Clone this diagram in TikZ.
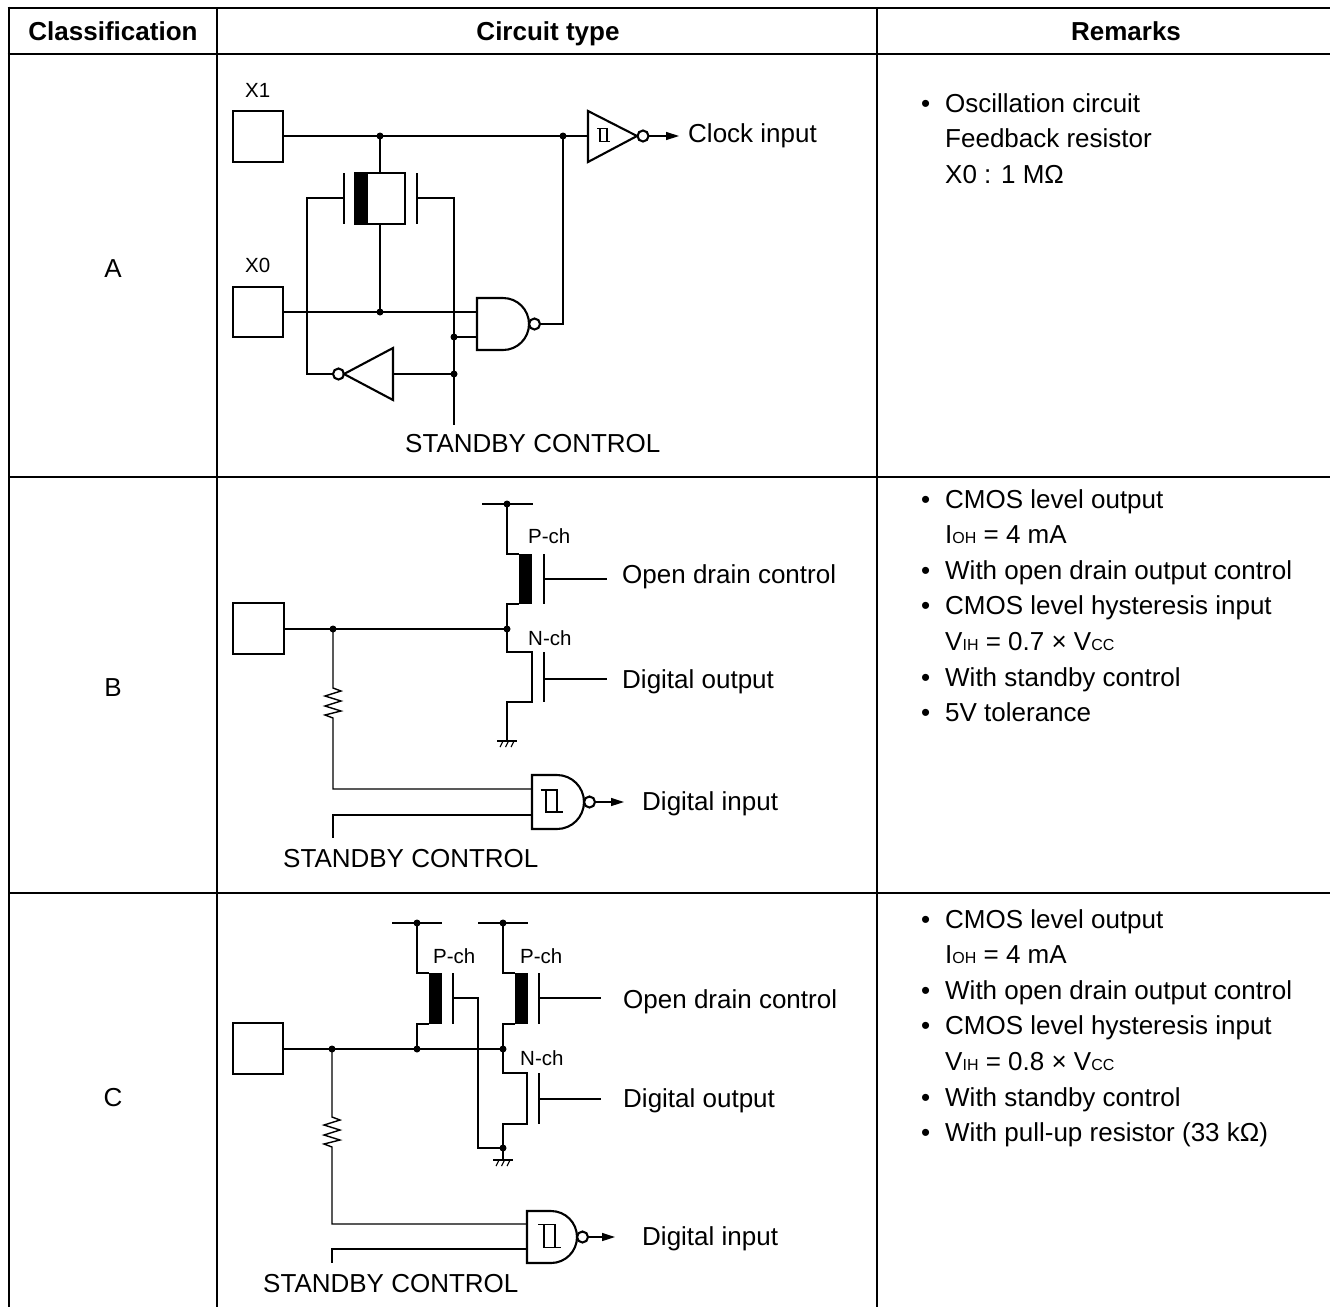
\documentclass[tikz,border=0pt]{standalone}
\usepackage{fontspec}
\setmainfont{Liberation Sans}
\usetikzlibrary{arrows.meta}
\newcommand\rmksub[1]{{\fontsize{16}{18}\selectfont #1}}
\newcommand\bul{\makebox[24pt][l]{•}}
\begin{document}
\begin{tikzpicture}[x=1pt,y=-1pt,
  wire/.style={line width=1.4pt},
  gateline/.style={line width=2.1pt, line join=miter},
  plate/.style={line width=2.4pt},
  tblthick/.style={line width=2.8pt},
  tbl/.style={line width=2pt},
  txt/.style={font=\fontsize{26}{30}\selectfont, inner sep=0pt, anchor=base west},
  hdr/.style={font=\bfseries\fontsize{26}{30}\selectfont, inner sep=0pt, anchor=base},
  smalltxt/.style={font=\fontsize{20.5}{24}\selectfont, inner sep=0pt, anchor=base west},
  sigarrow/.style={wire, -{Triangle[length=13pt,width=8pt]}},
  jdot/.style={fill=black, circle, inner sep=0pt, minimum size=7pt},
  hyst/.pic={\draw[line width=1.9pt] (-1,-1) -- (0.5,-1) -- (0.5,1) -- (1,1);
             \draw[line width=1.9pt] (-0.5,-1) -- (-0.5,1) -- (0.5,1);},
  gnd/.pic={\draw[line width=1.4pt] (-10,0) -- (10,0);
            \draw[line width=1.1pt] (-4,0) -- (-7,6) (1.5,0) -- (-1.5,6) (7,0) -- (4,6);}
]
\useasboundingbox (0,0) rectangle (1330,1307);
% ---------------- table ----------------
\draw[tblthick] (7.6,8) -- (1330,8);
\draw[tblthick] (7.6,54) -- (1330,54);
\draw[tbl] (8,477) -- (1330,477);
\draw[tbl] (8,893) -- (1330,893);
\draw[tblthick] (9,6.6) -- (9,1307);
\draw[tbl] (217,8) -- (217,1307);
\draw[tbl] (877,8) -- (877,1307);
\node[hdr] (h1) at (113,40) {Classification};
\node[hdr] (h2) at (548,40) {Circuit type};
\node[hdr] (h3) at (1126,40) {Remarks};
\node[txt, anchor=base] (ra) at (113,277) {A};
\node[txt, anchor=base] (rb) at (113,696) {B};
\node[txt, anchor=base] (rc) at (113,1106) {C};
% ---------------- remarks ----------------
\node[txt] (a1) at (921,112) {\bul Oscillation circuit};
\node[txt] (a2) at (945,147.6) {Feedback resistor};
\node[txt] (a3) at (945,183.2) {X0 : 1 MΩ};
\node[txt] (b1) at (921,508) {\bul CMOS level output};
\node[txt] (b2) at (945,543.6) {I\rmksub{OH} = 4 mA};
\node[txt] (b3) at (921,579.2) {\bul With open drain output control};
\node[txt] (b4) at (921,614.8) {\bul CMOS level hysteresis input};
\node[txt] (b5) at (945,650.4) {V\rmksub{IH} = 0.7 × V\rmksub{CC}};
\node[txt] (b6) at (921,686) {\bul With standby control};
\node[txt] (b7) at (921,721.6) {\bul 5V tolerance};
\node[txt] (c1) at (921,928) {\bul CMOS level output};
\node[txt] (c2) at (945,963.6) {I\rmksub{OH} = 4 mA};
\node[txt] (c3) at (921,999.2) {\bul With open drain output control};
\node[txt] (c4) at (921,1034.8) {\bul CMOS level hysteresis input};
\node[txt] (c5) at (945,1070.4) {V\rmksub{IH} = 0.8 × V\rmksub{CC}};
\node[txt] (c6) at (921,1106) {\bul With standby control};
\node[txt] (c7) at (921,1141.6) {\bul With pull-up resistor (33 kΩ)};
% ---------------- circuit A ----------------
\draw[gateline] (233,111) rectangle (283,162);
\node[smalltxt] (x1) at (245,97) {X1};
\draw[gateline] (233,287) rectangle (283,337);
\node[smalltxt] (x0) at (245,272) {X0};
\draw[wire] (283,136) -- (588,136);
\node[jdot] at (380,136) {};
\node[jdot] at (563,136) {};
\draw[gateline] (588,111) -- (637,136) -- (588,162) -- cycle;
\pic[scale=6.5] at (603.5,135) {hyst};
\draw[gateline] (643,136) circle[radius=5.5];
\draw[sigarrow] (648.5,136) -- (679,136);
\node[txt] (clk) at (688,142) {Clock input};
\draw[wire] (380,136) -- (380,173);
\draw[gateline] (355,173) rectangle (405,224);
\fill (355,173) rectangle (368,224);
\draw[wire] (380,224) -- (380,312);
\draw[plate] (344,173) -- (344,224);
\draw[plate] (417,173) -- (417,224);
\draw[wire] (344,198) -- (307,198) -- (307,374) -- (333,374);
\draw[wire] (417,198) -- (454,198) -- (454,425);
\draw[wire] (283,312) -- (477,312);
\node[jdot] at (380,312) {};
\draw[gateline] (477,298) -- (503,298) .. controls (517.4,298) and (529,309.6) .. (529,324) .. controls (529,338.4) and (517.4,350) .. (503,350) -- (477,350) -- cycle;
\draw[gateline] (534.5,324) circle[radius=5.5];
\draw[wire] (540,324) -- (563,324) -- (563,136);
\draw[wire] (454,337) -- (477,337);
\node[jdot] at (454,337) {};
\draw[gateline] (393,348) -- (393,400) -- (344,374) -- cycle;
\draw[gateline] (338.5,374) circle[radius=5.5];
\draw[wire] (393,374) -- (454,374);
\node[jdot] at (454,374) {};
\node[txt] (sa) at (405,452) {STANDBY CONTROL};
% ---------------- circuit B ----------------
\draw[gateline] (233,603) rectangle (284,654);
\draw[wire] (284,629) -- (507,629);
\node[jdot] at (333,629) {};
\node[jdot] at (507,629) {};
\draw[wire] (482,504) -- (533,504);
\node[jdot] at (507,504) {};
\draw[wire] (507,504) -- (507,554) -- (519,554);
\fill (519,554) rectangle (532,604);
\draw[wire] (519,604) -- (507,604) -- (507,652) -- (532,652) -- (532,702) -- (507,702) -- (507,741);
\pic at (507,741) {gnd};
\draw[plate] (544,554) -- (544,604);
\draw[wire] (544,579) -- (607,579);
\draw[plate] (544,652) -- (544,702);
\draw[wire] (544,679) -- (607,679);
\node[smalltxt] (bp) at (528,543) {P-ch};
\node[smalltxt] (bn) at (528,645) {N-ch};
\node[txt] (bo) at (622,583) {Open drain control};
\node[txt] (bd) at (622,688) {Digital output};
\draw[wire] (333,629) -- (333,688) -- (341,691) -- (325,696) -- (341,701) -- (325,706) -- (341,711) -- (325,715) -- (333,718) -- (333,789) -- (532,789);
\draw[wire] (532,815) -- (333,815) -- (333,838);
\draw[gateline] (532,775) -- (557,775) .. controls (571.9,775) and (584,787.1) .. (584,802) .. controls (584,816.9) and (571.9,829) .. (557,829) -- (532,829) -- cycle;
\pic[scale=11] at (551.5,801) {hyst};
\draw[gateline] (589.5,802) circle[radius=5.5];
\draw[sigarrow] (595,802) -- (624,802);
\node[txt] (bi) at (642,810) {Digital input};
\node[txt] (sb) at (283,867) {STANDBY CONTROL};
% ---------------- circuit C ----------------
\draw[gateline] (233,1023) rectangle (283,1074);
\draw[wire] (283,1049) -- (503,1049);
\node[jdot] at (332,1049) {};
\node[jdot] at (417,1049) {};
\node[jdot] at (503,1049) {};
\draw[wire] (392,923) -- (442,923);
\node[jdot] at (417,923) {};
\draw[wire] (478,923) -- (528,923);
\node[jdot] at (503,923) {};
\draw[wire] (417,923) -- (417,973) -- (429,973);
\fill (429,973) rectangle (442,1024);
\draw[wire] (429,1024) -- (417,1024) -- (417,1049);
\draw[plate] (453,973) -- (453,1024);
\draw[wire] (453,998) -- (478,998) -- (478,1148) -- (503,1148);
\draw[wire] (503,923) -- (503,973) -- (515,973);
\fill (515,973) rectangle (528,1024);
\draw[wire] (515,1024) -- (503,1024) -- (503,1073) -- (527,1073) -- (527,1124) -- (503,1124) -- (503,1160);
\node[jdot] at (503,1148) {};
\pic at (503,1160) {gnd};
\draw[plate] (539,973) -- (539,1024);
\draw[wire] (539,998) -- (601,998);
\draw[plate] (539,1073) -- (539,1124);
\draw[wire] (539,1099) -- (601,1099);
\node[smalltxt] (cp1) at (433,963) {P-ch};
\node[smalltxt] (cp2) at (520,963) {P-ch};
\node[smalltxt] (cn) at (520,1065) {N-ch};
\node[txt] (co) at (623,1008) {Open drain control};
\node[txt] (cd) at (623,1107) {Digital output};
\draw[wire] (332,1049) -- (332,1117) -- (340,1120) -- (324,1125) -- (340,1130) -- (324,1135) -- (340,1140) -- (324,1144) -- (332,1147) -- (332,1224) -- (527,1224);
\draw[wire] (527,1249) -- (332,1249) -- (332,1263);
\draw[gateline] (527,1211) -- (551,1211) .. controls (565.4,1211) and (577,1222.6) .. (577,1237) .. controls (577,1251.4) and (565.4,1263) .. (551,1263) -- (527,1263) -- cycle;
\pic[scale=11.5] at (549.5,1236) {hyst};
\draw[gateline] (582.5,1237) circle[radius=5.5];
\draw[sigarrow] (588,1237) -- (615,1237);
\node[txt] (ci) at (642,1245) {Digital input};
\node[txt] (sc) at (263,1292) {STANDBY CONTROL};
\end{tikzpicture}
\end{document}
